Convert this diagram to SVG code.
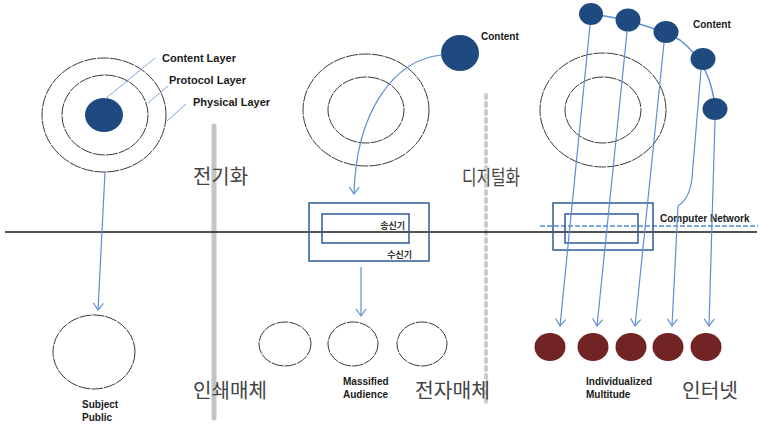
<svg xmlns="http://www.w3.org/2000/svg" width="760" height="426" viewBox="0 0 760 426">
<style>
.ring{fill:none;stroke:#3a3a3a;stroke-width:1;stroke-dasharray:12 1}
.lbl{font-family:"Liberation Sans","Noto Sans",sans-serif;font-weight:bold;font-size:11px;fill:#1a1a1a}
.sm{font-family:"Liberation Sans","Noto Sans",sans-serif;font-weight:bold;font-size:10px;fill:#1a1a1a}
.ko{font-family:"Noto Sans CJK KR",sans-serif;font-size:20px;fill:#444}
.kos{font-family:"Noto Sans CJK KR",sans-serif;font-size:9px;font-weight:bold;fill:#333}
.lead{stroke:#7fa8dc;stroke-width:1;fill:none}
.arr{stroke:#5b8fd3;stroke-width:1.2;fill:none}
.box{fill:none;stroke:#2f5a9a;stroke-width:1.5}
.blue{fill:#1f4a7f}
.red{fill:#722424}
</style>
<defs>
<marker id="ah" markerWidth="12" markerHeight="12" refX="10" refY="6" orient="auto" markerUnits="userSpaceOnUse" viewBox="0 0 12 12">
<polyline points="3,1 10,6 3,11" fill="none" stroke="#5b8fd3" stroke-width="1.2"/>
</marker>
</defs>
<rect width="760" height="426" fill="#fff"/>
<!-- dividers -->
<line x1="214" y1="126" x2="214" y2="418" stroke="#c4c4c4" stroke-width="5" stroke-linecap="round"/>
<line x1="486" y1="95" x2="486" y2="404" stroke="#cccccc" stroke-width="4" stroke-dasharray="3 5" stroke-linecap="round"/>
<!-- horizontal network line -->
<line x1="5" y1="232" x2="757" y2="232" stroke="#1a1a1a" stroke-width="1.3"/>
<line x1="540" y1="226" x2="758" y2="226" stroke="#7fa8dc" stroke-width="2" stroke-dasharray="5 2"/>

<g id="left-rings">
<ellipse class="ring" cx="104" cy="115" rx="62" ry="57"/>
<ellipse class="ring" cx="105" cy="115" rx="43" ry="40"/>
<ellipse class="blue" cx="104" cy="115" rx="19" ry="17"/>
</g>
<g id="layer-labels">
<line class="lead" x1="105" y1="99" x2="155" y2="58"/>
<line class="lead" x1="148" y1="103" x2="168" y2="86"/>
<line class="lead" x1="167" y1="121" x2="186" y2="104"/>
<text class="lbl" x="162" y="62">Content Layer</text>
<text class="lbl" x="169" y="84">Protocol Layer</text>
<text class="lbl" x="193" y="106">Physical Layer</text>
</g>
<g id="subject-public">
<ellipse class="ring" cx="94" cy="352" rx="41" ry="37"/>
<text class="sm" x="82" y="408">Subject</text>
<text class="sm" x="82" y="421">Public</text>
</g>

<g id="middle-rings">
<ellipse class="ring" cx="366" cy="110" rx="63" ry="56"/>
<ellipse class="ring" cx="366" cy="110" rx="38" ry="33"/>
</g>
<g id="middle-content">
<ellipse class="blue" cx="460" cy="53" rx="19" ry="18"/>
<text class="sm" x="481" y="40">Content</text>
</g>
<g id="middle-box">
<rect class="box" x="309" y="203" width="120" height="58"/>
<rect class="box" x="322" y="214" width="87" height="29"/>
<text class="kos" x="405" y="229" text-anchor="end">송신기</text>
<text class="kos" x="412" y="258" text-anchor="end">수신기</text>
</g>
<g id="middle-audience">
<ellipse class="ring" cx="285" cy="344" rx="26" ry="22"/>
<ellipse class="ring" cx="353" cy="344" rx="25" ry="22"/>
<ellipse class="ring" cx="422" cy="344" rx="25" ry="22"/>
<text class="sm" x="343" y="385">Massified</text>
<text class="sm" x="343" y="398">Audience</text>
</g>

<g id="right-rings">
<ellipse class="ring" cx="603" cy="110" rx="63" ry="57"/>
<ellipse class="ring" cx="603" cy="110" rx="38" ry="33"/>
</g>
<g id="right-content">
<path d="M591 14 Q640 20 680 40 Q712 65 715 109" fill="none" stroke="#5b8fd3" stroke-width="1.5"/>
<ellipse class="blue" cx="591" cy="14" rx="12" ry="11"/>
<ellipse class="blue" cx="628" cy="20" rx="12.5" ry="11.5"/>
<ellipse class="blue" cx="666" cy="32" rx="12.5" ry="11"/>
<ellipse class="blue" cx="703" cy="59" rx="12.5" ry="11"/>
<ellipse class="blue" cx="715" cy="109" rx="12.5" ry="11"/>
<text class="sm" x="693" y="28">Content</text>
</g>
<g id="right-box">
<rect class="box" x="553" y="203" width="100" height="47"/>
<rect class="box" x="565" y="214" width="73" height="29"/>
<text class="sm" x="660" y="222" font-size="9.5">Computer Network</text>
</g>
<g id="right-multitude">
<ellipse class="red" cx="550" cy="347" rx="15.5" ry="14"/>
<ellipse class="red" cx="593" cy="347" rx="15.5" ry="14"/>
<ellipse class="red" cx="631" cy="347" rx="15.5" ry="14"/>
<ellipse class="red" cx="668" cy="347" rx="15.5" ry="14"/>
<ellipse class="red" cx="706" cy="347" rx="15.5" ry="14"/>
<text class="sm" x="586" y="385">Individualized</text>
<text class="sm" x="586" y="398">Multitude</text>
</g>

<g id="connectors">
<path class="arr" d="M105 172 L98 310" marker-end="url(#ah)"/>
<path class="arr" d="M441 55 C395 60 356 110 354 194" marker-end="url(#ah)"/>
<path class="arr" d="M361 267 L361 316" marker-end="url(#ah)"/>
<path class="arr" d="M590 25 L560 326" marker-end="url(#ah)"/>
<path class="arr" d="M627 32 L597 326" marker-end="url(#ah)"/>
<path class="arr" d="M664 43 L635 326" marker-end="url(#ah)"/>
<path class="arr" d="M701 70 L692 178 Q690 198 678 206 L672 326" marker-end="url(#ah)"/>
<path class="arr" d="M715 120 L709 326" marker-end="url(#ah)"/>
</g>

<g id="era-labels">
<text class="ko" x="193" y="184" textLength="55" lengthAdjust="spacingAndGlyphs">전기화</text>
<text class="ko" x="462" y="185" textLength="58" lengthAdjust="spacingAndGlyphs">디지털화</text>
<text class="ko" x="193" y="398" textLength="74" lengthAdjust="spacingAndGlyphs">인쇄매체</text>
<text class="ko" x="415" y="398" textLength="75" lengthAdjust="spacingAndGlyphs">전자매체</text>
<text class="ko" x="682" y="398" textLength="56" lengthAdjust="spacingAndGlyphs">인터넷</text>
</g>
</svg>
